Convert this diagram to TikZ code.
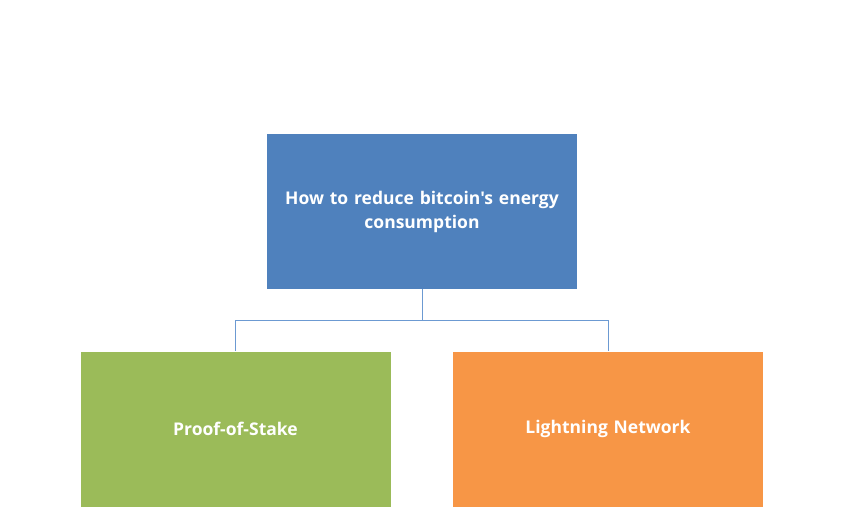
\documentclass[tikz,border=0pt]{standalone}
\usepackage{fontspec}
\setmainfont{Open Sans}[Ligatures=TeXOff]
\definecolor{topblue}{HTML}{4F81BD}
\definecolor{leafgreen}{HTML}{9BBB59}
\definecolor{leaforange}{HTML}{F79646}
\definecolor{linkblue}{HTML}{6C9AD2}
\begin{document}
\begin{tikzpicture}[x=1pt,y=-1pt,
  boxstyle/.style={draw=none,minimum width=310pt,minimum height=155pt,inner sep=0pt,
    text=white,font=\bfseries\fontsize{17.5}{24}\selectfont,align=center,text width=300pt},
  linkstyle/.style={draw=linkblue,line width=1pt}]
\useasboundingbox[fill=white] (0,0) rectangle (842,519);
\node[boxstyle,fill=topblue] (top) at (422,211.5) {How to reduce bitcoin's energy\\consumption};
\node[boxstyle,fill=leafgreen] (pos) at (235.5,429) {Proof-of-Stake};
\node[boxstyle,fill=leaforange] (ln) at (608,429) {Lightning Network};
\coordinate (mid) at (422,320.5);
\draw[linkstyle] (top.south) -- (mid) -| (pos.north);
\draw[linkstyle] (mid) -| (ln.north);
\end{tikzpicture}
\end{document}
